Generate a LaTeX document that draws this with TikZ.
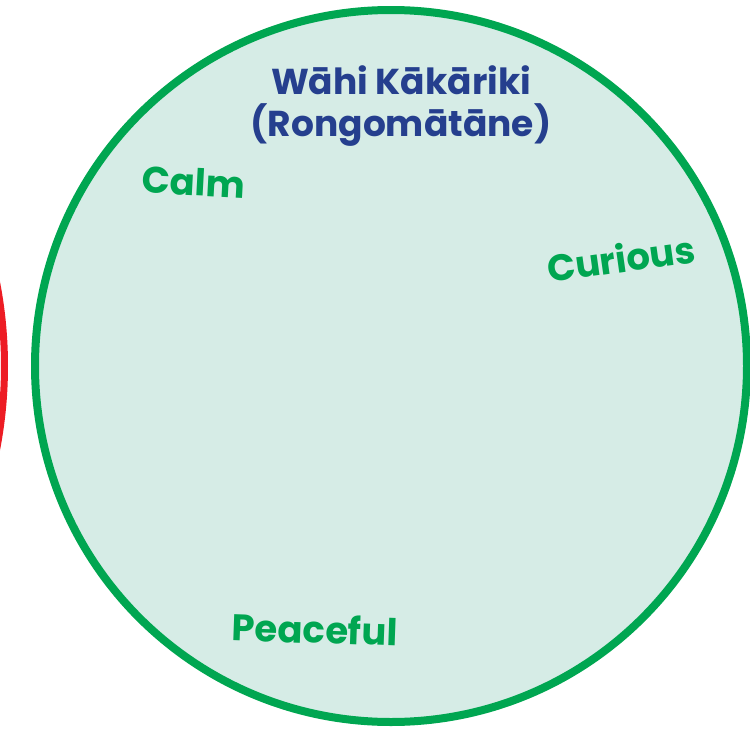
\documentclass[tikz,border=0pt]{standalone}
\usepackage{fontspec}
\newfontfamily\zonefont{Poppins}
\definecolor{zonegreen}{RGB}{0,166,81}
\definecolor{zonefill}{RGB}{214,236,230}
\definecolor{zonered}{RGB}{237,28,36}
\definecolor{zoneblue}{RGB}{37,63,142}

\begin{document}
\begin{tikzpicture}[x=1pt, y=-1pt,
                zone/.style={circle, draw, line width=8pt, inner sep=0pt},
                title/.style={font=\zonefont\bfseries\fontsize{36}{42}\selectfont, text=zoneblue, align=center},
                feeling/.style={font=\zonefont\bfseries\fontsize{37}{40}\selectfont, text=zonegreen}
            ]
                \clip (0,0) rectangle (750,731);
                \node[zone, draw=zonered, line width=7pt, fill=white, minimum size=880pt] (red) at (-435.5,366) {};
                \node[zone, draw=zonegreen, fill=zonefill, minimum size=712pt] (green) at (391,366) {};

                \node[title] (zonename) at (401,106) {
                    Wāhi Kākāriki\\
                    (Rongomātāne)
                };

                \node[feeling, rotate=-3] (calm) at (194,182) {Calm};
                \node[feeling, rotate=8] (curious) at (621,258) {Curious};
                \node[feeling, rotate=-2] (peaceful) at (315,629) {Peaceful};
            \end{tikzpicture}
\end{document}
